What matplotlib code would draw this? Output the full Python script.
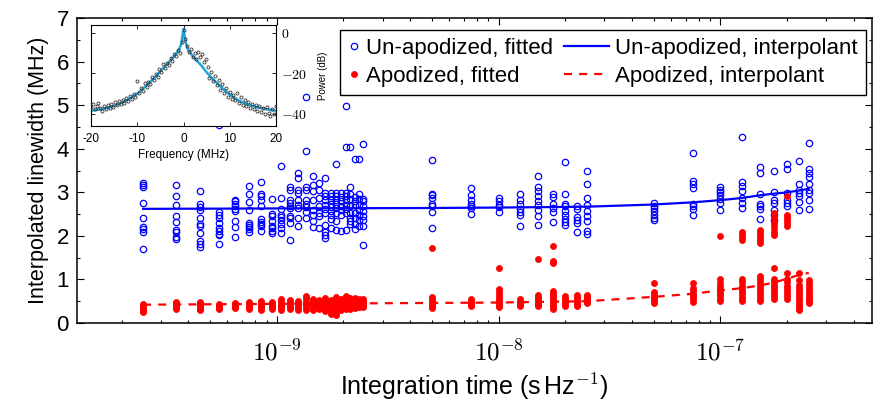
import matplotlib
matplotlib.use('Agg')
import matplotlib.pyplot as plt
import numpy as np
from matplotlib.legend_handler import HandlerLine2D
from matplotlib.ticker import FixedLocator, MultipleLocator, FuncFormatter

plt.rcParams['font.family'] = ['Liberation Sans', 'DejaVu Sans']
plt.rcParams['mathtext.fontset'] = 'cm'

# integration times of the measurement groups (s Hz^-1)
t_groups = [2.5e-10, 3.5e-10, 4.5e-10, 5.5e-10, 6.5e-10, 7.5e-10, 8.5e-10, 9.5e-10,
            1.05e-9, 1.15e-9, 1.25e-9, 1.35e-9, 1.45e-9, 1.55e-9, 1.65e-9, 1.75e-9,
            1.85e-9, 1.95e-9, 2.05e-9, 2.15e-9, 2.25e-9, 2.35e-9, 2.45e-9,
            5e-9, 7.5e-9, 1e-8, 1.25e-8, 1.5e-8, 1.75e-8, 2e-8, 2.25e-8, 2.5e-8,
            5e-8, 7.5e-8, 1e-7, 1.25e-7, 1.5e-7, 1.75e-7, 2e-7, 2.25e-7, 2.5e-7]

# un-apodized fitted linewidths (MHz), one list per group
unapod_fit = [
    [3.22, 3.16, 3.12, 2.76, 2.41, 2.21, 2.16, 2.09, 1.71],
    [3.16, 2.92, 2.70, 2.45, 2.31, 2.14, 2.09, 1.97, 1.93],
    [3.04, 2.73, 2.67, 2.60, 2.41, 2.28, 2.23, 2.06, 1.89, 1.82, 1.75],
    [4.55, 2.54, 2.49, 2.41, 2.30, 2.18, 2.12, 2.05, 2.02, 1.81],
    [2.83, 2.79, 2.74, 2.68, 2.62, 2.56, 2.33, 2.20, 1.97],
    [3.14, 2.95, 2.77, 2.60, 2.30, 2.25, 2.20, 2.16, 2.10],
    [3.23, 2.97, 2.91, 2.83, 2.69, 2.39, 2.32, 2.27, 2.22, 2.12],
    [2.85, 2.51, 2.46, 2.33, 2.23, 2.18, 2.12, 2.07],
    [3.60, 2.86, 2.62, 2.49, 2.43, 2.36, 2.28, 2.18, 2.06],
    [3.13, 3.06, 2.83, 2.76, 2.69, 2.63, 2.46, 2.41, 2.30, 1.91],
    [3.45, 3.33, 3.05, 2.99, 2.83, 2.72, 2.64, 2.41, 2.22],
    [5.18, 3.95, 3.13, 3.06, 2.83, 2.74, 2.67, 2.54, 2.41],
    [3.37, 3.16, 3.03, 2.83, 2.60, 2.49, 2.33, 2.20],
    [3.22, 3.06, 2.87, 2.68, 2.53, 2.45, 2.18],
    [3.33, 2.99, 2.91, 2.83, 2.72, 2.62, 2.53, 2.26, 2.10, 2.03, 1.95],
    [2.99, 2.91, 2.82, 2.74, 2.67, 2.56, 2.49, 2.39, 2.18],
    [3.64, 2.99, 2.91, 2.83, 2.74, 2.64, 2.53, 2.33, 2.14],
    [2.99, 2.90, 2.79, 2.69, 2.60, 2.49, 2.12],
    [4.97, 4.03, 2.99, 2.91, 2.83, 2.72, 2.62, 2.53, 2.14],
    [4.03, 3.13, 2.95, 2.85, 2.68, 2.53, 2.41, 2.33, 2.28],
    [3.76, 2.90, 2.80, 2.70, 2.52, 2.40, 2.28, 2.15],
    [3.76, 2.95, 2.85, 2.72, 2.60, 2.48, 2.36, 2.22],
    [4.10, 2.85, 2.79, 2.68, 2.56, 2.45, 2.37, 2.22, 1.79],
    [3.75, 2.97, 2.93, 2.88, 2.73, 2.68, 2.54, 2.19],
    [3.11, 2.93, 2.83, 2.74, 2.68, 2.64, 2.51],
    [2.87, 2.81, 2.72, 2.67, 2.55],
    [2.95, 2.83, 2.74, 2.62, 2.54, 2.47, 2.23],
    [3.37, 3.13, 3.02, 2.91, 2.81, 2.70, 2.59, 2.45, 2.24],
    [2.95, 2.90, 2.74, 2.64, 2.54, 2.31],
    [3.69, 2.97, 2.74, 2.68, 2.56, 2.49, 2.39, 2.32, 2.26],
    [2.68, 2.62, 2.43, 2.36, 2.30, 2.08],
    [3.48, 3.19, 2.86, 2.72, 2.56, 2.46, 2.35, 2.12, 2.05],
    [2.76, 2.69, 2.63, 2.56, 2.49, 2.41, 2.36],
    [3.91, 3.26, 3.18, 3.10, 2.74, 2.68, 2.62, 2.48],
    [3.13, 3.06, 3.00, 2.93, 2.85, 2.76, 2.60],
    [4.26, 3.23, 3.14, 3.03, 2.87, 2.76, 2.64],
    [3.59, 3.45, 2.95, 2.74, 2.68, 2.62, 2.39],
    [3.50, 3.00, 2.83, 2.76, 2.59, 2.49, 2.37],
    [3.65, 3.53, 2.99, 2.83, 2.76, 2.68],
    [3.72, 3.18, 3.06, 2.99, 2.91, 2.77, 2.59],
    [4.14, 3.54, 3.45, 3.36, 3.20, 3.06, 2.99, 2.83, 2.62],
]

# apodized fitted linewidths (MHz)
apod_fit = [
    [0.25, 0.28, 0.31, 0.34, 0.37, 0.40, 0.43],
    [0.33, 0.36, 0.39, 0.42, 0.45, 0.48],
    [0.30, 0.33, 0.36, 0.39, 0.42, 0.45, 0.48],
    [0.32, 0.35, 0.38, 0.41, 0.44],
    [0.34, 0.37, 0.40, 0.43, 0.46],
    [0.33, 0.36, 0.39, 0.42, 0.46, 0.49],
    [0.30, 0.34, 0.38, 0.42, 0.46, 0.50],
    [0.32, 0.36, 0.40, 0.44, 0.48],
    [0.30, 0.34, 0.38, 0.42, 0.46, 0.50, 0.54],
    [0.32, 0.36, 0.40, 0.44, 0.48, 0.52],
    [0.31, 0.35, 0.39, 0.43, 0.47, 0.51],
    [0.30, 0.34, 0.38, 0.42, 0.46, 0.51, 0.58, 0.62],
    [0.31, 0.35, 0.39, 0.43, 0.47, 0.52, 0.56],
    [0.33, 0.37, 0.41, 0.45, 0.49, 0.53],
    [0.28, 0.32, 0.36, 0.40, 0.44, 0.48, 0.53, 0.57],
    [0.20, 0.26, 0.32, 0.36, 0.40, 0.44, 0.48, 0.52],
    [0.18, 0.24, 0.30, 0.35, 0.40, 0.45, 0.50, 0.55, 0.60],
    [0.30, 0.34, 0.38, 0.42, 0.46, 0.50, 0.54],
    [0.32, 0.36, 0.40, 0.44, 0.48, 0.52, 0.58, 0.62],
    [0.33, 0.37, 0.41, 0.45, 0.49, 0.53, 0.57],
    [0.34, 0.38, 0.42, 0.46, 0.50, 0.54, 0.58],
    [0.36, 0.40, 0.44, 0.48, 0.52, 0.56],
    [0.36, 0.40, 0.44, 0.48, 0.52, 0.56],
    [0.34, 0.38, 0.42, 0.46, 0.50, 0.55, 0.60, 1.73],
    [0.38, 0.42, 0.46, 0.50, 0.54],
    [0.36, 0.40, 0.44, 0.48, 0.53, 0.57, 0.64, 0.71, 0.78, 1.27],
    [0.38, 0.42, 0.46, 0.50, 0.55],
    [0.38, 0.42, 0.46, 0.50, 0.55, 0.60, 0.64, 1.48],
    [0.33, 0.37, 0.41, 0.45, 0.49, 0.54, 0.59, 0.64, 0.70, 0.73, 1.37, 1.43, 1.77],
    [0.40, 0.44, 0.48, 0.52, 0.56, 0.62],
    [0.38, 0.42, 0.46, 0.50, 0.55, 0.60, 0.64],
    [0.45, 0.49, 0.53, 0.57, 0.61, 0.65],
    [0.45, 0.50, 0.55, 0.60, 0.66, 0.72, 0.91],
    [0.49, 0.54, 0.59, 0.64, 0.70, 0.76, 0.80, 0.91],
    [0.51, 0.56, 0.61, 0.66, 0.72, 0.78, 0.85, 0.92, 1.02, 2.00],
    [0.51, 0.56, 0.62, 0.68, 0.74, 0.80, 0.86, 0.93, 1.00, 1.91, 1.98, 2.05, 2.10],
    [0.50, 0.56, 0.62, 0.68, 0.74, 0.80, 0.87, 0.94, 1.00, 1.08, 1.83, 1.90, 1.96, 2.02, 2.08, 2.14],
    [0.56, 0.62, 0.68, 0.74, 0.80, 0.86, 0.92, 0.97, 1.02, 1.26, 2.03, 2.10, 2.17, 2.24, 2.31, 2.38, 2.45, 2.53],
    [0.56, 0.62, 0.68, 0.74, 0.80, 0.86, 0.93, 1.00, 1.14, 2.22, 2.29, 2.36, 2.43, 2.49, 2.91],
    [0.29, 0.34, 0.39, 0.44, 0.50, 0.56, 0.62, 0.68, 0.74, 0.80, 0.88, 0.99, 1.14],
    [0.45, 0.50, 0.55, 0.60, 0.66, 0.72, 0.78, 0.84, 0.92, 0.99],
]

# interpolants
t_interp = [2.5e-10, 1e-9, 5e-9, 1e-8, 2.5e-8, 5e-8, 7.5e-8, 1e-7, 1.25e-7, 1.5e-7,
            1.75e-7, 2e-7, 2.25e-7, 2.5e-7]
unapod_interp = [2.62, 2.63, 2.64, 2.65, 2.67, 2.72, 2.77, 2.82, 2.87, 2.93, 2.97, 3.00, 3.04, 3.08]
apod_interp = [0.42, 0.44, 0.46, 0.47, 0.50, 0.60, 0.67, 0.75, 0.80, 0.86, 0.93, 1.02, 1.10, 1.15]

# inset spectrum
freq_meas = [-20.0, -19.6, -19.2, -18.8, -18.4, -18.0, -17.6, -17.2, -16.8, -16.4, -16.0,
             -15.6, -15.2, -14.8, -14.4, -14.0, -13.6, -13.2, -12.8, -12.4, -12.0,
             -11.6, -11.2, -10.8, -10.4, -10.0, -9.6, -9.2, -8.8, -8.4, -8.0,
             -7.6, -7.2, -6.8, -6.4, -6.0, -5.6, -5.2, -4.8, -4.4, -4.0,
             -3.6, -3.2, -2.8, -2.4, -2.0, -1.6, -1.2, -0.8, -0.4, 0.0,
             0.4, 0.8, 1.2, 1.6, 2.0, 2.4, 2.8, 3.2, 3.6, 4.0,
             4.4, 4.8, 5.2, 5.6, 6.0, 6.4, 6.8, 7.2, 7.6, 8.0,
             8.4, 8.8, 9.2, 9.6, 10.0, 10.4, 10.8, 11.2, 11.6, 12.0,
             12.4, 12.8, 13.2, 13.6, 14.0, 14.4, 14.8, 15.2, 15.6, 16.0,
             16.4, 16.8, 17.2, 17.6, 18.0, 18.4, 18.8, 19.2, 19.6, 20.0]
power_meas = [-36.5, -35.0, -37.8, -36.2, -34.5, -37.0, -38.5, -36.0, -37.8, -35.5, -36.9,
              -35.2, -36.8, -34.0, -35.8, -33.8, -35.0, -33.0, -34.6, -32.2, -33.5,
              -31.0, -32.5, -30.0, -31.5, -24.0, -29.8, -27.2, -28.5, -25.0, -26.8,
              -24.2, -25.5, -22.0, -23.5, -20.5, -21.8, -18.0, -19.5, -15.5, -17.2,
              -14.8, -16.0, -12.5, -13.8, -10.5, -11.5, -8.5, -9.8, -4.5, 1.5,
              -3.0, -6.5, -9.5, -8.0, -12.0, -10.0, -13.0, -9.5, -12.0, -10.5,
              -14.5, -13.0, -17.0, -22.5, -19.5, -24.0, -21.5, -26.0, -23.5, -28.0,
              -25.5, -29.5, -27.0, -31.5, -29.0, -32.5, -30.5, -33.0, -29.5, -34.5,
              -31.5, -35.5, -33.0, -36.0, -34.0, -37.0, -35.0, -37.5, -35.5, -38.5,
              -36.0, -39.0, -37.0, -40.0, -36.5, -39.5, -41.0, -37.5, -40.0, -36.0]
freq_fit = [-20, -18, -16, -14, -12, -10, -8, -6, -5, -4, -3, -2, -1, -0.5, 0,
            0.5, 1, 2, 3, 4, 5, 6, 8, 10, 12, 14, 16, 18, 20]
power_fit = [-38.5, -37.8, -36.8, -35.2, -33.0, -30.0, -26.0, -21.5, -19.0, -16.5, -14.0,
             -11.5, -8.5, -5.5, 2.0, -5.0, -8.5, -11.5, -14.0, -16.5, -19.5, -22.0,
             -26.5, -30.5, -33.5, -35.5, -36.8, -37.8, -38.5]

blue = '#0000FF'
red = '#FF0000'

fig = plt.figure(figsize=(8.76, 4.01), dpi=100)
ax = fig.add_axes([0.088, 0.1945, 0.907, 0.7605])

tb = np.concatenate([[t] * len(v) for t, v in zip(t_groups, unapod_fit)])
yb = np.concatenate(unapod_fit)
tr = np.concatenate([[t] * len(v) for t, v in zip(t_groups, apod_fit)])
yr = np.concatenate(apod_fit)

ax.plot(tb, yb, 'o', ls='none', ms=4.6, mfc='none', mec=blue, mew=0.9,
        label='Un-apodized, fitted', zorder=2)
ax.plot(tr, yr, 'o', ls='none', ms=4.4, mfc=red, mec=red, mew=0.5,
        label='Apodized, fitted', zorder=3)
ax.plot(t_interp, unapod_interp, '-', color=blue, lw=1.6,
        label='Un-apodized, interpolant', zorder=4)
ax.plot(t_interp, apod_interp, '--', color=red, lw=1.6, dashes=(3.6, 3.2),
        label='Apodized, interpolant', zorder=4)

ax.set_xscale('log')
ax.set_xlim(1.26e-10, 4.8e-7)
ax.set_ylim(0, 7)
ax.yaxis.set_major_locator(MultipleLocator(1))
ax.yaxis.set_minor_locator(MultipleLocator(0.5))
ax.xaxis.set_major_locator(FixedLocator([1e-9, 1e-8, 1e-7]))
ax.xaxis.set_major_formatter(FuncFormatter(lambda v, p: r'$10^{%d}$' % round(np.log10(v))))
ax.tick_params(which='both', direction='in', top=True, right=True, width=0.8)
ax.tick_params(which='major', length=5)
ax.tick_params(which='minor', length=2.5)
ax.tick_params(axis='y', which='major', labelsize=16, pad=6)
ax.tick_params(axis='x', which='major', labelsize=18, pad=12)
for s in ax.spines.values():
    s.set_linewidth(1.1)
ax.set_ylabel('Interpolated linewidth (MHz)', fontsize=15.5, labelpad=5)
ax.set_xlabel(r'Integration time (s$\,$Hz$^{-1}$)', fontsize=18, labelpad=4)


class MarkerRight(HandlerLine2D):
    def get_xdata(self, legend, xdescent, ydescent, width, height, fontsize):
        x = -xdescent + width - 0.25 * fontsize
        return np.array([x, x]), np.array([x])


class LongLine(HandlerLine2D):
    def get_xdata(self, legend, xdescent, ydescent, width, height, fontsize):
        xd = np.array([-xdescent - 1.5 * fontsize, -xdescent + width])
        return xd, xd


handles, labels = ax.get_legend_handles_labels()
leg = ax.legend(handles, labels,
                ncol=2, loc='upper right', bbox_to_anchor=(0.9925, 0.961),
                borderaxespad=0, fontsize=16, handlelength=0.5, handletextpad=0.3,
                columnspacing=2.0, labelspacing=0.32, borderpad=0.35,
                fancybox=False, framealpha=1, edgecolor='black',
                handler_map={handles[0]: MarkerRight(), handles[1]: MarkerRight(),
                             handles[2]: LongLine(), handles[3]: LongLine()})
leg.get_frame().set_linewidth(1.0)

# inset
axi = fig.add_axes([0.104, 0.686, 0.211, 0.252])
axi.plot(freq_meas, power_meas, 'o', ls='none', ms=2.2, mfc='none', mec='#333333',
         mew=0.6, zorder=3)
axi.plot(freq_fit, power_fit, '-', color='#1AA7E0', lw=1.8, zorder=2)
axi.set_xlim(-20, 20)
axi.set_ylim(-46, 4)
axi.set_xticks([-20, -10, 0, 10, 20])
axi.set_xticklabels(['-20', '-10', '0', '10', '20'])
axi.set_yticks([0, -20, -40])
axi.yaxis.set_major_formatter(FuncFormatter(lambda v, p: r'$%d$' % v))
axi.yaxis.tick_right()
axi.tick_params(direction='in', top=True, left=True, right=True, length=3, width=0.6)
axi.tick_params(axis='x', labelsize=8.5, pad=5)
axi.tick_params(axis='y', labelsize=10, pad=4)
axi.set_xlabel('Frequency (MHz)', fontsize=8.5, labelpad=3)
axi.set_ylabel('Power (dB)', fontsize=7, rotation=90)
axi.yaxis.set_label_coords(1.28, 0.5)
for s in axi.spines.values():
    s.set_linewidth(0.8)

fig.savefig('out.png', dpi=100)
